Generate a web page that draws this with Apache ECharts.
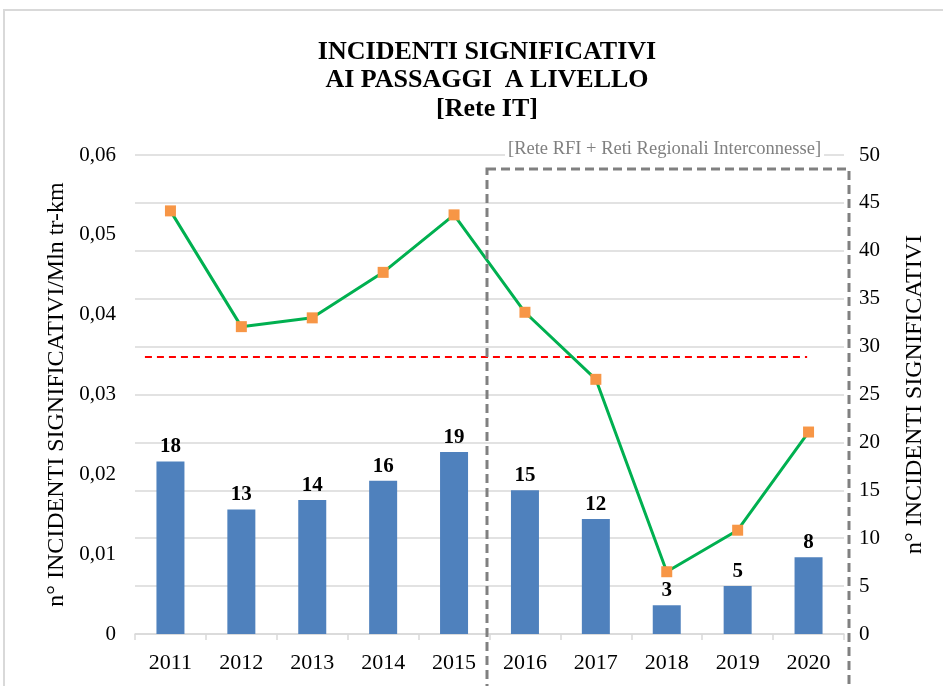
<!DOCTYPE html>
<html>
<head>
<meta charset="utf-8">
<script src="https://cdn.jsdelivr.net/npm/echarts@6/dist/echarts.min.js"></script>
<style>
  html, body { margin: 0; padding: 0; background: #fff; }
  #main { width: 943px; height: 686px; }
</style>
</head>
<body>
<div id="main"></div>
<script>
var anni = ['2011', '2012', '2013', '2014', '2015', '2016', '2017', '2018', '2019', '2020'];
var incidenti = [18, 13, 14, 16, 19, 15, 12, 3, 5, 8];
var tasso = [0.0530, 0.0385, 0.0396, 0.0453, 0.0525, 0.0403, 0.0319, 0.0078, 0.0130, 0.0253];
var soglia = 0.0347;
var sogliaDa = 0.14, sogliaA = 9.48; // estensione della linea rossa (in categorie)

var serif = 'Liberation Serif';
var myChart = echarts.init(document.getElementById('main'));

var option = {
  animation: false,
  textStyle: { fontFamily: serif },
  title: {
    text: 'INCIDENTI SIGNIFICATIVI\nAI PASSAGGI  A LIVELLO\n[Rete IT]',
    left: 482,
    textAlign: 'center',
    top: 33,
    textStyle: { fontFamily: serif, fontSize: 26, fontWeight: 'bold', color: '#000', lineHeight: 28.5 }
  },
  grid: { left: 135, right: 99, top: 155, bottom: 52 },
  xAxis: [{
    type: 'category',
    data: anni,
    axisLine: { lineStyle: { color: '#d9d9d9', width: 1.5 } },
    axisTick: { show: true, length: 6, lineStyle: { color: '#d9d9d9', width: 1.5 } },
    axisLabel: { color: '#000', fontSize: 22, fontFamily: serif, margin: 18 }
  }, {
    type: 'value', min: 0, max: 10, show: false
  }],
  yAxis: [{
    type: 'value',
    min: 0, max: 0.06, interval: 0.01,
    position: 'left',
    name: 'n° INCIDENTI SIGNIFICATIVI/Mln tr-km',
    nameLocation: 'middle',
    nameRotate: 90,
    nameGap: 61,
    nameTextStyle: { fontFamily: serif, fontSize: 24, color: '#000' },
    axisLine: { show: false },
    axisTick: { show: false },
    splitLine: { show: false },
    axisLabel: {
      color: '#000', fontSize: 21, fontFamily: serif, margin: 19,
      formatter: function (v) { return v === 0 ? '0' : v.toFixed(2).replace('.', ','); }
    }
  }, {
    type: 'value',
    min: 0, max: 50, interval: 5,
    position: 'right',
    name: 'n° INCIDENTI SIGNIFICATIVI',
    nameLocation: 'middle',
    nameRotate: 90,
    nameGap: 59,
    nameTextStyle: { fontFamily: serif, fontSize: 24, color: '#000' },
    axisLine: { show: false },
    axisTick: { show: false },
    splitLine: { lineStyle: { color: '#d9d9d9', width: 1.5 } },
    axisLabel: { color: '#000', fontSize: 21, fontFamily: serif, margin: 15 }
  }],
  series: [{
    type: 'bar',
    yAxisIndex: 1,
    data: incidenti,
    barWidth: 28,
    itemStyle: { color: '#4f81bd' },
    label: {
      show: true, position: 'top', distance: 4,
      fontFamily: serif, fontSize: 21, fontWeight: 'bold', color: '#000'
    },
    z: 2
  }, {
    type: 'line',
    xAxisIndex: 1,
    yAxisIndex: 0,
    data: [[sogliaDa, soglia], [sogliaA, soglia]],
    symbol: 'none',
    lineStyle: { color: '#ff0000', width: 2, type: [7, 5] },
    z: 3
  }, {
    type: 'line',
    yAxisIndex: 0,
    data: tasso,
    symbol: 'rect',
    symbolSize: 11,
    lineStyle: { color: '#00b050', width: 3 },
    itemStyle: { color: '#f79646', borderWidth: 0 },
    z: 4
  }],
  graphic: [{
    type: 'rect',
    shape: { x: 4, y: 10, width: 960, height: 700 },
    style: { fill: 'none', stroke: '#d9d9d9', lineWidth: 2 },
    silent: true
  }, {
    type: 'rect',
    shape: { x: 487, y: 169, width: 362, height: 530 },
    style: { fill: 'none', stroke: '#808080', lineWidth: 3, lineDash: [9, 5] },
    silent: true,
    z: 10
  }, {
    type: 'text',
    left: 505,
    top: 140,
    style: {
      text: '[Rete RFI + Reti Regionali Interconnesse]',
      font: '18.5px "Liberation Serif"',
      fill: '#808080',
      backgroundColor: '#fff',
      padding: [0, 3]
    },
    z: 10
  }]
};

myChart.setOption(option);
</script>
</body>
</html>
